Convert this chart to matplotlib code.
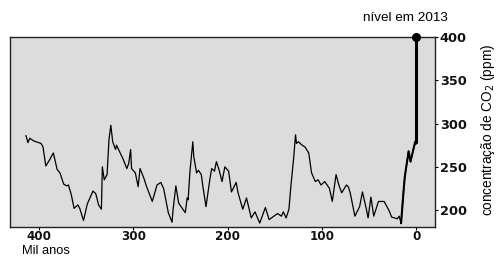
import matplotlib

matplotlib.use("Agg")
import matplotlib.pyplot as plt

# thousand years before present and CO2 (ppm)
years = [414, 412, 410, 406, 398, 396, 393, 389, 385, 381, 378, 374, 371, 369, 366, 363, 359, 357, 353, 349,
         343, 340, 337, 334, 333, 331, 328, 326, 324, 322, 319, 318, 314, 311, 307, 305, 303, 302, 298, 295,
         293, 289, 286, 280, 275, 271, 268, 263, 259, 258, 255, 252, 247, 245, 243, 242, 240, 237, 236, 233,
         231, 228, 226, 223, 219, 217, 214, 212, 209, 206, 203, 199, 196, 191, 189, 184, 180, 175, 171, 166,
         160, 156, 151, 147, 143, 141, 138, 135, 133, 130, 128, 127, 125, 121, 118, 114, 111, 107, 104, 101,
         97, 92, 89, 85, 82, 79, 74, 72, 70, 65, 60, 57, 53, 51, 48, 45, 40, 34, 29, 26,
         20, 18, 16, 13, 12, 8, 6, 3, 1, 0]
ppm = [286, 278, 283, 280, 277, 273, 251, 258, 266, 247, 243, 230, 228, 229, 218, 202, 206, 202, 188, 207,
       222, 219, 206, 201, 250, 235, 241, 281, 298, 279, 270, 275, 266, 259, 248, 254, 270, 248, 243, 227,
       248, 237, 227, 210, 229, 232, 225, 197, 186, 200, 228, 208, 200, 197, 214, 212, 245, 279, 262, 243,
       246, 241, 225, 204, 235, 248, 245, 256, 246, 233, 250, 245, 221, 232, 220, 201, 214, 191, 198, 185,
       203, 189, 193, 196, 193, 198, 191, 201, 227, 260, 287, 277, 279, 275, 273, 266, 243, 233, 235, 229,
       233, 225, 210, 241, 229, 220, 229, 227, 220, 193, 204, 221, 202, 191, 215, 193, 210, 210, 200, 192,
       190, 193, 185, 227, 239, 268, 256, 270, 279, 277]

# jump to the 2013 level
modern_years = [0, 0]
modern_ppm = [277, 400]

yticks = [200, 250, 300, 350, 400]
xticks = [400, 300, 200, 100, 0]

fig = plt.figure(figsize=(5, 2.58), dpi=100)
ax = fig.add_axes([0.02, 0.1202, 0.85, 0.7364])
ax.set_facecolor("#dcdcdc")

ax.plot(years, ppm, color="black", lw=0.9)
recent = [i for i, y in enumerate(years) if y <= 16]
ax.plot([years[i] for i in recent], [ppm[i] for i in recent], color="black", lw=1.5)
ax.plot(modern_years, modern_ppm, color="black", lw=2.2, solid_capstyle="butt")
ax.plot(modern_years[-1], modern_ppm[-1], "o", color="black", ms=5.5, clip_on=False, zorder=5)

ax.set_xlim(431, -20)
ax.set_ylim(180.5, 400)
ax.set_xticks(xticks)
ax.set_yticks(yticks)
ax.yaxis.tick_right()
ax.tick_params(direction="out", length=2.2, width=0.8, labelsize=9.3)
ax.tick_params(axis="x", pad=0.0, labelsize=8.6)
ax.tick_params(axis="y", pad=1.2)
for lab in ax.get_xticklabels() + ax.get_yticklabels():
    lab.set_fontfamily("DejaVu Sans")
    lab.set_fontweight("bold")
    lab.set_color("#111111")
for s in ax.spines.values():
    s.set_linewidth(1.0)
    s.set_color("#222222")

fig.text(488 / 500, 1 - 130 / 258, "concentração de CO$_2$ (ppm)", rotation=90, ha="center", va="center",
         fontsize=9.8, family="Liberation Sans")
fig.text(405.5 / 500, 1 - 18 / 258, "nível em 2013", ha="center", va="center",
         fontsize=9.7, family="Liberation Sans")
fig.text(21.5 / 500, 0.5 / 258, "Mil anos", ha="left", va="bottom",
         fontsize=9.3, family="Liberation Sans")

fig.savefig("out.png", dpi=100)
plt.close(fig)
